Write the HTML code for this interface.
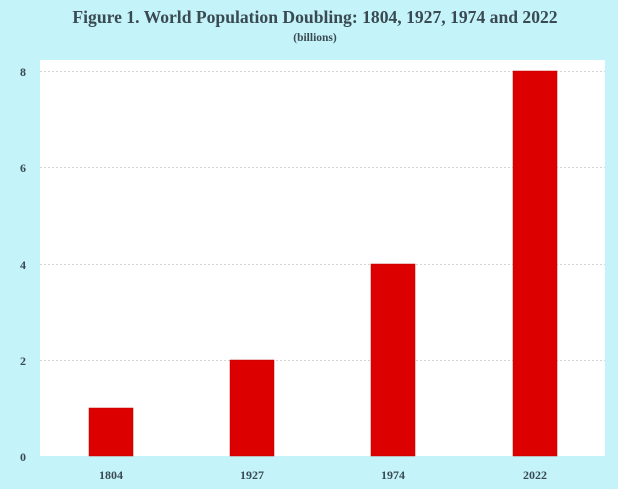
<!DOCTYPE html>
<html><head><meta charset="utf-8"><style>
body{margin:0;background:#fff;}
</style></head><body>
<svg width="629" height="493" xmlns="http://www.w3.org/2000/svg" font-family="Liberation Serif, serif" font-weight="bold">
<rect x="0" y="0" width="618" height="489" fill="#c4f4f9"/>
<text x="315" y="23" text-anchor="middle" font-size="17.6" fill="#3a4a52">Figure 1. World Population Doubling: 1804, 1927, 1974 and 2022</text>
<text x="315" y="41" text-anchor="middle" font-size="11.5" fill="#3a4a52">(billions)</text>
<rect x="40" y="60" width="565" height="396" fill="#fff"/>
<g stroke="#d4d4d4" stroke-dasharray="2,2" stroke-width="1">
<line x1="40" x2="605" y1="71.5" y2="71.5"/>
<line x1="40" x2="605" y1="167.5" y2="167.5"/>
<line x1="40" x2="605" y1="264.5" y2="264.5"/>
<line x1="40" x2="605" y1="360.5" y2="360.5"/>
</g>
<g fill="#dd0000" stroke="#b00" stroke-width="0.5">
<rect x="89" y="408" width="44" height="48"/>
<rect x="230" y="360" width="44" height="96"/>
<rect x="371" y="264" width="44" height="192"/>
<rect x="513" y="71" width="44" height="385"/>
</g>
<g font-size="12" fill="#3a4a52" text-anchor="middle">
<text x="23" y="76">8</text>
<text x="23" y="172">6</text>
<text x="23" y="269">4</text>
<text x="23" y="365">2</text>
<text x="23" y="461">0</text>
<text x="111" y="479">1804</text>
<text x="252" y="479">1927</text>
<text x="393" y="479">1974</text>
<text x="535" y="479">2022</text>
</g>
</svg>
</body></html>
